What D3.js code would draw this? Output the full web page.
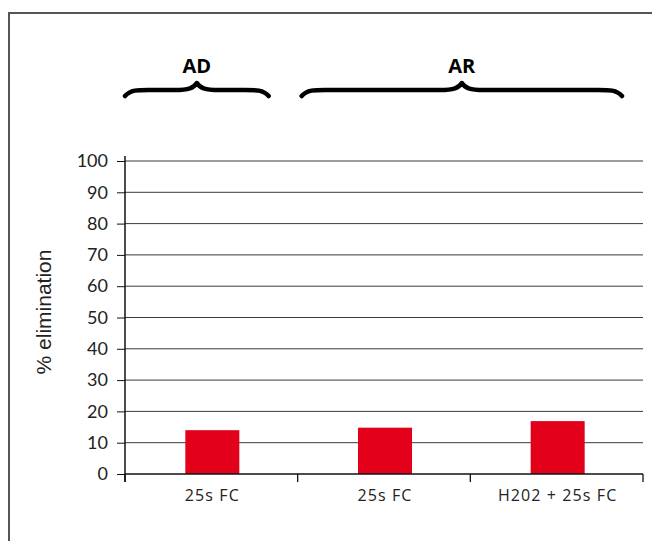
<!DOCTYPE html>
<html><head><meta charset="utf-8">
<script src="https://cdn.jsdelivr.net/npm/d3@7"></script>
<style>body{margin:0;background:#fff}svg{display:block}</style>
</head><body>
<svg id="c" width="652" height="541"></svg>
<script>
const categories = ["25s FC", "25s FC", "H202 + 25s FC"];
const values = [14, 14.8, 16.9];
const yTicks = [0, 10, 20, 30, 40, 50, 60, 70, 80, 90, 100];
const groupLabels = ["AD", "AR"];
const groupFirst = [0, 1];
const groupLast = [0, 2];
const yTitle = "% elimination";

(function () {
const svg = d3.select("#c");
const pL = 125, pR = 643, pT = 161, pB = 474;

// frame
svg.append("path").attr("d", "M9,560V13H660").attr("fill", "none")
  .attr("stroke", "#555").attr("stroke-width", 2);

const x = d3.scaleBand().domain(d3.range(categories.length)).range([pL, pR]).paddingInner(0).paddingOuter(0);
const y = d3.scaleLinear().domain([0, 100]).range([pB, pT]);

// gridlines
svg.append("g").selectAll("line").data(yTicks.filter(d => d > 0)).join("line")
  .attr("x1", pL).attr("x2", pR).attr("y1", d => y(d)).attr("y2", d => y(d))
  .attr("stroke", "#3a3a3a").attr("stroke-width", 1);

// bars
const bw = 54;
svg.append("g").selectAll("rect").data(values).join("rect")
  .attr("x", (d, i) => x(i) + x.bandwidth() / 2 - bw / 2 + 1)
  .attr("width", bw)
  .attr("y", d => y(d)).attr("height", d => y(0) - y(d))
  .attr("fill", "#e2001a");

// y axis
const yAxis = d3.axisLeft(y).tickValues(yTicks).tickSize(8).tickSizeOuter(0).tickPadding(9);
const gy = svg.append("g").attr("transform", `translate(${pL},0)`).call(yAxis);
gy.select(".domain").attr("stroke", "#111").attr("stroke-width", 1.5).attr("d", `M0,${pB + 8}V${pT - 5}`);
gy.selectAll(".tick line").attr("stroke", "#111");
gy.selectAll("text").attr("font-family", "Lato").attr("font-size", 18).attr("fill", "#222");

// x axis
const gx = svg.append("g").attr("transform", `translate(0,${pB})`);
gx.append("line").attr("x1", pL).attr("x2", pR).attr("stroke", "#111").attr("stroke-width", 1.5);
const edges = d3.range(categories.length + 1).map(i => pL + i * x.bandwidth());
gx.selectAll(".xt").data(edges).join("line").attr("class", "xt")
  .attr("x1", d => d).attr("x2", d => d).attr("y1", 0).attr("y2", 8)
  .attr("stroke", "#111").attr("stroke-width", 1.3);
gx.selectAll("text").data(categories).join("text")
  .attr("x", (d, i) => x(i) + x.bandwidth() / 2 + 1).attr("y", 27)
  .attr("text-anchor", "middle").attr("font-family", "Open Sans").attr("font-size", 16)
  .attr("letter-spacing", 1.1)
  .attr("fill", "#222").text(d => d);

// y title
svg.append("text").attr("transform", "translate(51,312) rotate(-90)")
  .attr("text-anchor", "middle").attr("font-family", "Liberation Sans").attr("font-size", 21)
  .attr("fill", "#222").text(yTitle);

// group braces
const padL = [0, 4], padR = [29, 21];
function brace(x1, x2, yb) {
  const xm = (x1 + x2) / 2, h = 6, t = 7;
  return `M${x1},${yb + h} C${x1 + 6},${yb - 1} ${x1 + 14},${yb} ${x1 + 32},${yb}
          L${xm - 22},${yb} C${xm - 8},${yb} ${xm - 3},${yb - 2} ${xm},${yb - t}
          C${xm + 3},${yb - 2} ${xm + 8},${yb} ${xm + 22},${yb}
          L${x2 - 32},${yb} C${x2 - 14},${yb} ${x2 - 6},${yb - 1} ${x2},${yb + h}`;
}
groupLabels.forEach((g, i) => {
  const x1 = x(groupFirst[i]) + padL[i];
  const x2 = x(groupLast[i]) + x.bandwidth() - padR[i];
  svg.append("path").attr("d", brace(x1, x2, 90)).attr("fill", "none")
    .attr("stroke", "#000").attr("stroke-width", 4.5).attr("stroke-linecap", "round").attr("stroke-linejoin", "round");
  svg.append("text").attr("x", (x1 + x2) / 2).attr("y", 73).attr("text-anchor", "middle")
    .attr("font-family", "Open Sans").attr("font-weight", "bold").attr("font-size", 20)
    .attr("fill", "#000").text(g);
});
})();
</script>
</body></html>
